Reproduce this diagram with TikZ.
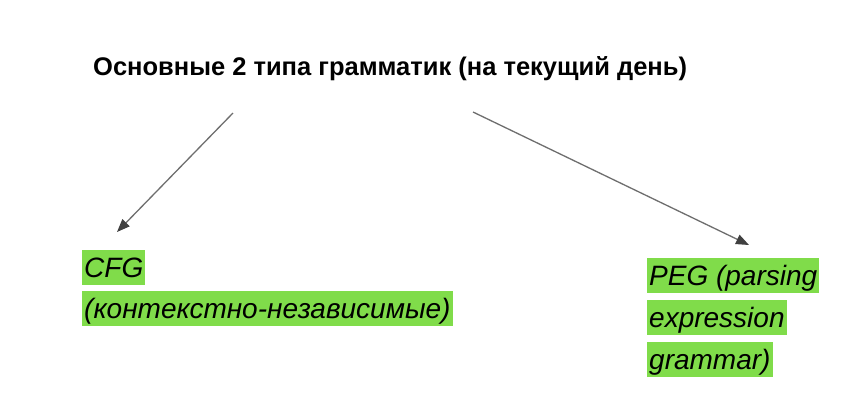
\documentclass[tikz,border=0pt]{standalone}
\usepackage{fontspec}
\setmainfont{Liberation Sans}
\usetikzlibrary{arrows.meta}
\definecolor{hl}{HTML}{80DC4A}
\definecolor{arrgray}{HTML}{6E6E6E}
\begin{document}
\begin{tikzpicture}[x=1pt,y=-1pt,
  titlebox/.style={font=\fontsize{25.5}{30}\selectfont\bfseries, inner sep=0pt, anchor=base west},
  hlline/.style={fill=hl, font=\fontsize{28}{32}\selectfont\itshape, anchor=north west,
    inner xsep=2pt, inner ysep=0pt, text height=27pt, text depth=8pt},
  arr/.style={draw=arrgray, line width=1.3pt, -{Triangle[length=13pt,width=10pt,color=black!75]}}]
\useasboundingbox (0,0) rectangle (856,408);
\fill[white] (0,0) rectangle (856,408);
\node[titlebox] (title) at (93,75) {Основные 2 типа грамматик (на текущий день)};
\node[hlline] (cfg1) at (82,250) {CFG};
\node[hlline] (cfg2) at (82,291) {(контекстно-независимые)};
\node[hlline] (peg1) at (647,258) {PEG (parsing};
\node[hlline] (peg2) at (647,300) {expression};
\node[hlline] (peg3) at (647,342) {grammar)};
\coordinate (ls) at (233,113);
\coordinate (lt) at (117,232);
\coordinate (rs) at (473,112);
\coordinate (rt) at (749,245);
\draw[arr] (ls) -- (lt);
\draw[arr] (rs) -- (rt);
\end{tikzpicture}
\end{document}
